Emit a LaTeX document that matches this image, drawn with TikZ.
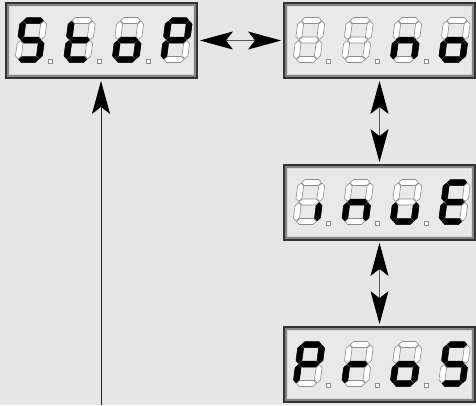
\documentclass[tikz,border=0pt]{standalone}
\usetikzlibrary{arrows.meta,calc}
\definecolor{bgc}{HTML}{E6E6E6}
\definecolor{innerc}{HTML}{E9E9E9}
\definecolor{framec}{HTML}{858585}
\tikzset{
 seg1/.style={fill=black, draw=black, line width=0.5pt, line join=round},
 seg0/.style={fill=white, draw=black!45, line width=0.6pt, line join=round},
 dpt/.style={fill=white, draw=black!45, line width=0.6pt},
 dispbox/.style={rectangle, minimum width=191pt, minimum height=75pt, inner sep=0pt, draw=black!80, line width=1.8pt, fill=framec},
 innerbox/.style={fill=innerc, draw=white!70!gray, line width=0.6pt},
 biarrow/.style={{Stealth[length=33pt,width=18pt,inset=7pt,color=black]}-{Stealth[length=33pt,width=18pt,inset=7pt,color=black]}, draw=black!65, line width=0.9pt, shorten <=2pt, shorten >=2pt},
 uparrow/.style={-{Stealth[length=33pt,width=18pt,inset=7pt,color=black]}, draw=black!85, line width=1pt, shorten >=2pt},
}
\def\sevdigX#1#2#3#4#5#6#7#8{%
 \begin{scope}[shift={#1}, yscale=-1, xslant=-0.13]
  \path[seg#2] (0.6,39) -- ++(3,3) -- ++(13.8,0) -- ++(3,-3) -- ++(-3,-3) -- ++(-13.8,0) -- cycle;
  \path[seg#3] (21,20.1) -- ++(3,3) -- ++(0,12.3) -- ++(-3,3) -- ++(-3,-3) -- ++(0,-12.3) -- cycle;
  \path[seg#4] (21,0.6) -- ++(3,3) -- ++(0,12.3) -- ++(-3,3) -- ++(-3,-3) -- ++(0,-12.3) -- cycle;
  \path[seg#5] (0.6,0) -- ++(3,3) -- ++(13.8,0) -- ++(3,-3) -- ++(-3,-3) -- ++(-13.8,0) -- cycle;
  \path[seg#6] (0,0.6) -- ++(3,3) -- ++(0,12.3) -- ++(-3,3) -- ++(-3,-3) -- ++(0,-12.3) -- cycle;
  \path[seg#7] (0,20.1) -- ++(3,3) -- ++(0,12.3) -- ++(-3,3) -- ++(-3,-3) -- ++(0,-12.3) -- cycle;
  \path[seg#8] (0.6,19.5) -- ++(3,3) -- ++(13.8,0) -- ++(3,-3) -- ++(-3,-3) -- ++(-13.8,0) -- cycle;
 \end{scope}}
\newcommand\sevdig[2]{\sevdigX{#1}#2}
\newcommand\disp[7]{%
 \node[dispbox] (#1) at ({#2+95.5},{#3+37.5}) {};
 \path[innerbox] ([xshift=4.5pt,yshift=4.5pt]#1.south west) rectangle ([xshift=-4.5pt,yshift=-4.5pt]#1.north east);
 \sevdig{({#2+12},{#3+56.5})}{#4}
 \sevdig{({#2+60.5},{#3+56.5})}{#5}
 \sevdig{({#2+109},{#3+56.5})}{#6}
 \sevdig{({#2+157.5},{#3+56.5})}{#7}
 \foreach \dx in {44,93,142} {\path[dpt] ({#2+\dx-2},{#3+56.5}) rectangle ++(4,4);}
}
\begin{document}
\begin{tikzpicture}[x=1pt,y=-1pt]
 \fill[bgc] (0,0) rectangle (476,405);
 \disp{d1}{6}{3}{1011011}{0001111}{0011101}{1100111}
 \disp{d2}{284}{3}{0000000}{0000000}{0010101}{0011101}
 \disp{d3}{284}{165}{0010000}{0010101}{0011100}{1001111}
 \disp{d4}{284}{327}{1100111}{0000101}{0011101}{1011011}
 \draw[biarrow] (d1) -- (d2);
 \draw[biarrow] (d2) -- (d3);
 \draw[biarrow] (d3) -- (d4);
 \coordinate (lb) at (101,405);
 \draw[uparrow] (lb) -- (lb |- d1.south);
\end{tikzpicture}
\end{document}
